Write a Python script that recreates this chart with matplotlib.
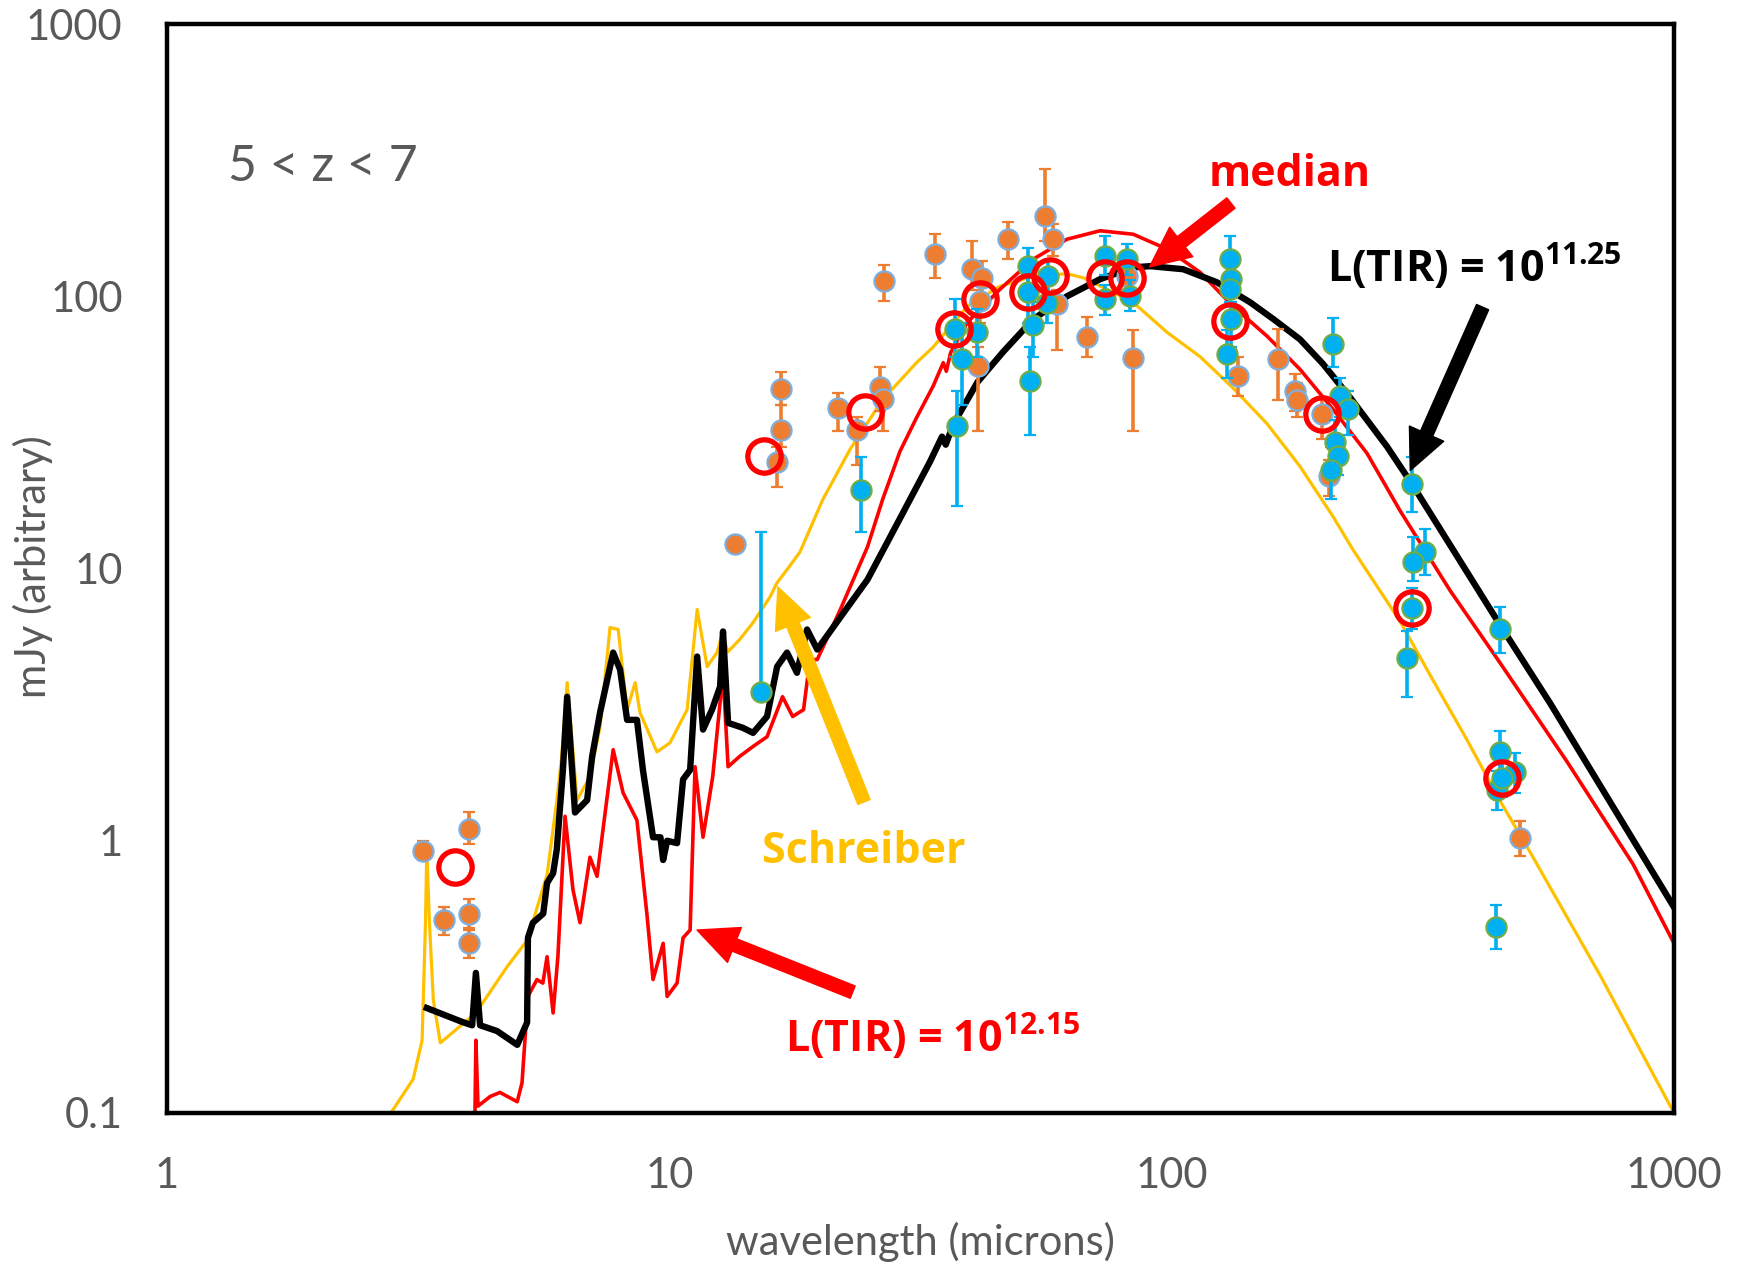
import numpy as np
import matplotlib
matplotlib.use("Agg")
import matplotlib.pyplot as plt

plt.rcParams['font.family'] = ['Lato', 'DejaVu Sans']
plt.rcParams['mathtext.fontset'] = 'custom'
plt.rcParams['mathtext.bf'] = 'Open Sans:bold'
plt.rcParams['mathtext.rm'] = 'Open Sans'

# ---------------- data ----------------
black_x = [3.29, 3.87, 4.05, 4.12, 4.2, 4.54, 4.98, 5.21, 5.23, 5.35, 5.61, 5.71, 5.87, 5.97, 6.14,
           6.26, 6.49, 6.86, 7.02, 7.28, 7.73, 7.98, 8.24, 8.62, 8.86, 9.28, 9.6, 9.72, 9.9, 10.36,
           10.65, 11.0, 11.36, 11.67, 12.16, 12.62, 12.79, 13.09, 14.0, 14.68, 15.65, 16.39, 17.15,
           17.95, 18.8, 19.7, 22.0, 24.8, 28.8, 33.0, 34.9, 35.5, 36.8, 41.1, 46.2, 53.0, 61.9, 72.0,
           83.8, 90.6, 105.4, 123.0, 143.3, 160.0, 180.0, 200.0, 226.5, 268.5, 301.0, 358.3, 450.6,
           566.8, 1000.0]
black_y = [0.243, 0.216, 0.21, 0.327, 0.21, 0.20, 0.178, 0.215, 0.44, 0.50, 0.54, 0.70, 0.76, 0.93, 1.82,
           3.38, 1.27, 1.41, 2.04, 2.96, 4.91, 4.25, 2.78, 2.78, 1.82, 1.03, 1.03, 0.85, 1.0, 0.98,
           1.68, 1.82, 4.75, 2.56, 3.03, 3.68, 5.87, 2.71, 2.6, 2.49, 2.86, 4.36, 4.91,
           4.14, 5.97, 5.04, 6.7, 9.1, 15.3, 24.6, 30.5, 28.5, 34.0, 48.5, 62.5, 82.3, 100.0, 115.5,
           127.6, 129.0, 125.7, 112.6, 95.0, 82.0, 69.5, 56.5, 42.5, 28.0, 20.4, 12.2, 6.2,
           3.2, 0.57]

red_x = [4.1, 4.12, 4.16, 4.40, 4.60, 4.98, 5.09, 5.23, 5.45, 5.6, 5.71, 5.87, 6.0, 6.2, 6.43, 6.64,
         6.95, 7.18, 7.73, 8.09, 8.62, 9.03, 9.28, 9.72, 9.9, 10.36, 10.65, 11.0, 11.25, 11.67, 12.2,
         12.79, 13.09, 13.8, 14.68, 15.65, 16.8, 17.6, 18.5, 19.05, 19.7, 21.9, 24.8, 26.6, 28.8,
         31.1, 33.5, 35.1, 35.6, 36.3, 39.2, 45.5, 53.0, 61.9, 72.0, 83.8, 97.9, 113.9, 132.5,
         154.9, 180.1, 209.6, 244.8, 284.9, 358.3, 450.6, 612.7, 829.0, 1000.0]
red_y = [0.09, 0.185, 0.106, 0.115, 0.119, 0.110, 0.129, 0.268, 0.309, 0.30, 0.375, 0.233, 0.375, 1.23,
         0.66, 0.50, 0.87, 0.74, 2.16, 1.50, 1.19, 0.53, 0.309, 0.42, 0.268, 0.30, 0.44, 0.47, 1.87,
         1.03, 1.72, 4.14, 1.87, 2.04, 2.22, 2.41, 3.38, 2.86, 3.03, 4.63, 4.63, 7.07, 12.0, 18.0,
         27.0, 36.0, 46.7, 57.0, 53.0, 62.0, 80.2, 106.0, 136.8, 162.0, 174.0, 169.0, 149.0, 122.5,
         91.9, 71.3, 53.9, 38.4, 26.5, 16.3, 8.3, 4.5, 1.95, 0.82, 0.42]

yellow_x = [2.79, 3.09, 3.22, 3.27, 3.29, 3.33, 3.39, 3.50, 4.12, 4.75, 5.21, 5.71, 5.97, 6.1, 6.26,
            6.55, 6.95, 7.28, 7.62, 7.91, 8.24, 8.55, 8.74, 9.45, 10.03, 10.85, 11.36, 11.89, 12.44,
            12.73, 13.09, 13.8, 14.68, 15.87, 16.39, 17.15, 18.2, 20.2, 22.9, 26.6, 31.1, 33.5, 39.2,
            45.5, 53.0, 61.9, 66.6, 74.4, 83.8, 97.9, 113.9, 132.5, 154.9, 180.1, 209.6, 229.7,
            284.9, 331.0, 387.0, 450.6, 524.0, 713.0, 1000.0]
yellow_y = [0.1, 0.133, 0.185, 0.5, 0.93, 0.5, 0.26, 0.181, 0.233, 0.344, 0.43, 0.75, 1.4, 2.0, 3.81,
            1.41, 1.72, 2.62, 6.07, 5.97, 3.03, 3.81, 2.96, 2.12, 2.29, 3.03, 7.07, 4.36, 4.91,
            5.71, 4.95, 5.48, 6.33, 7.87, 8.88, 9.9, 11.5, 17.9, 27.4, 41.8, 57.2, 65.0, 91.9,
            108.8, 118.5, 121.0, 117.0, 106.0, 95.0, 73.7, 60.0, 46.0, 34.0, 23.7, 15.5, 11.7,
            6.4, 3.9, 2.35, 1.4, 0.87, 0.32, 0.1]

orange_x = [3.23, 3.56, 3.99, 3.99, 3.99, 13.5, 16.7, 16.7, 16.4, 21.7, 23.6, 26.3, 26.6, 26.8, 33.8,
            40.1, 41.2, 42.0, 41.6, 47.2, 56.0, 58.1, 59.1, 67.9, 83.8, 81.5, 135.6, 162.9, 176.1,
            178.0, 199.0, 206.0, 494.0]
orange_y = [0.92, 0.51, 1.10, 0.54, 0.42, 12.3, 45.5, 32.2, 24.7, 38.7, 32.4, 46.3, 41.8, 113.5, 142.7,
            125.7, 55.3, 117.0, 95.9, 162.0, 197.0, 162.0, 93.5, 70.7, 59.1, 118.5, 50.8, 58.7, 44.8,
            41.6, 36.8, 21.8, 1.02]
orange_lo = [0.85, 0.45, 0.97, 0.48, 0.37, 11.8, 40.0, 28.0, 20.0, 32.0, 24.0, 38.0, 32.0, 96.0, 117.0,
             105.0, 31.9, 95.0, 80.0, 137.0, 160.0, 140.0, 63.6, 59.6, 31.9, 105.0, 43.0, 41.5, 38.0,
             36.0, 30.0, 18.5, 0.88]
orange_hi = [1.0, 0.57, 1.28, 0.61, 0.47, 12.8, 52.5, 40.0, 28.0, 44.0, 36.0, 55.0, 47.0, 130.0, 169.0,
             160.0, 65.0, 135.0, 110.0, 188.0, 293.0, 185.0, 105.0, 83.6, 75.0, 130.0, 60.0, 75.6, 52.0,
             48.0, 42.0, 25.0, 1.18]

blue_x = [15.2, 24.1, 37.4, 38.3, 37.0, 41.0, 51.8, 51.8, 56.8, 56.5, 53.0, 52.2, 73.7, 73.7, 81.5,
          82.7, 130.7, 131.5, 130.7, 131.5, 128.9, 209.6, 216.3, 224.5, 211.0, 214.0, 208.0, 301.0,
          319.0, 302.0, 301.0, 294.0, 450.6, 451.0, 483.0, 444.6, 455.0, 442.5]
blue_y = [3.53, 19.5, 33.3, 58.7, 75.6, 74.0, 128.9, 103.5, 118.5, 94.8, 78.7, 48.7, 140.0, 97.5, 136.8,
          100.0, 136.8, 115.5, 106.0, 82.3, 61.2, 66.6, 42.9, 38.4, 29.1, 25.8, 23.1, 20.4,
          11.5, 10.6, 7.19, 4.71, 5.97, 2.11, 1.79, 1.54, 1.70, 0.483]
blue_lo = [3.53, 13.6, 16.9, 40.0, 60.0, 60.0, 105.0, 80.0, 95.0, 80.0, 60.0, 31.0, 120.0, 85.0, 120.0,
           88.0, 115.0, 100.0, 95.0, 65.0, 50.0, 55.0, 36.0, 31.0, 24.0, 22.0, 18.0, 16.1,
           9.5, 9.0, 6.0, 3.36, 4.9, 1.8, 1.5, 1.3, 1.45, 0.40]
blue_hi = [13.6, 25.6, 45.0, 80.0, 97.5, 90.0, 150.0, 120.0, 135.0, 110.0, 95.0, 65.0, 166.0, 110.0, 155.0,
           115.0, 166.0, 130.0, 120.0, 95.0, 75.0, 83.0, 50.0, 45.0, 35.0, 30.0, 28.0, 25.6,
           14.0, 13.0, 8.5, 5.9, 7.2, 2.52, 2.1, 1.8, 2.0, 0.58]

circ_x = [3.74, 15.4, 24.5, 36.8, 41.6, 51.8, 57.3, 73.7, 81.5, 130.7, 199.2, 301.0, 455.0]
circ_y = [0.80, 25.8, 37.5, 75.6, 97.5, 103.5, 118.5, 117.0, 117.0, 81.0, 36.8, 7.19, 1.70]

x_ticks = [1, 10, 100, 1000]
x_tick_labels = ["1", "10", "100", "1000"]
y_ticks = [0.1, 1, 10, 100, 1000]
y_tick_labels = ["0.1", "1", "10", "100", "1000"]

# ---------------- figure ----------------
W, H = 1742, 1268
fig = plt.figure(figsize=(W / 100, H / 100), dpi=100)
ax = fig.add_axes([167 / W, 1 - 1113 / H, 1507 / W, 1089 / H])
ax.set_xscale('log')
ax.set_yscale('log')
ax.set_xlim(1, 1000)
ax.set_ylim(0.1, 1000)

GRAY = '#595959'
ax.set_xticks(x_ticks, x_tick_labels)
ax.set_yticks(y_ticks, y_tick_labels)
ax.minorticks_off()
ax.tick_params(axis='both', length=0, labelsize=30, labelcolor=GRAY, pad=32)
for s in ax.spines.values():
    s.set_linewidth(3.2)
    s.set_color('black')
    s.set_zorder(10)

ax.plot(yellow_x, yellow_y, color='#FFC000', lw=2.3, zorder=2, solid_joinstyle='round')
ax.plot(red_x, red_y, color='#FF0000', lw=2.6, zorder=2.2, solid_joinstyle='round')
ax.plot(black_x, black_y, color='black', lw=4.6, zorder=2.4, solid_joinstyle='round')

ox, oy = np.array(orange_x), np.array(orange_y)
olo, ohi = np.array(orange_lo), np.array(orange_hi)
ax.errorbar(ox, oy, yerr=[oy - olo, ohi - oy], fmt='o', ms=14.5, mfc='#ED7D31', mec='#7FAEDD',
            mew=1.6, ecolor='#ED7D31', elinewidth=2.6, capsize=4.5, capthick=2.6, zorder=3)

bx, by = np.array(blue_x), np.array(blue_y)
blo, bhi = np.array(blue_lo), np.array(blue_hi)
ax.errorbar(bx, by, yerr=[by - blo, bhi - by], fmt='o', ms=14.5, mfc='#00B0F0', mec='#70AD47',
            mew=1.6, ecolor='#00B0F0', elinewidth=2.6, capsize=4.5, capthick=2.6, zorder=4)

ax.plot(circ_x, circ_y, 'o', ms=24, mfc='none', mec='#FF0000', mew=3.8, zorder=5)

# ---------------- text ----------------
ax.text(0.0405, 0.869, "5 < z < 7", transform=ax.transAxes, fontsize=36, color=GRAY,
        ha='left', va='center')

fig.text(920 / W, 1 - 1242 / H, "wavelength (microns)", fontsize=30, color=GRAY,
         ha='center', va='center')
fig.text(33 / W, 1 - 567 / H, "mJy (arbitrary)", fontsize=30, color=GRAY,
         ha='center', va='center', rotation=90)

bold = dict(family='Open Sans', fontweight='bold', fontsize=31)
ax.text(0.745, 0.862, "median", transform=ax.transAxes, color='#FF0000', ha='center',
        va='center', **bold)
ax.text(0.770, 0.763, r"L(TIR) = 10$^{\mathbf{11.25}}$", transform=ax.transAxes, color='black',
        ha='left', va='baseline', **bold)
ax.text(0.395, 0.2296, "Schreiber", transform=ax.transAxes, color='#FFC000', ha='left',
        va='baseline', **bold)
ax.text(0.410, 0.056, r"L(TIR) = 10$^{\mathbf{12.15}}$", transform=ax.transAxes, color='#FF0000',
        ha='left', va='baseline', **bold)

def arrow(tail, head, color):
    ax.annotate("", xy=head, xytext=tail, xycoords='axes fraction', textcoords='axes fraction',
                arrowprops=dict(arrowstyle='simple,head_length=2.9,head_width=2.7,tail_width=0.95',
                                mutation_scale=10, color=color, shrinkA=0, shrinkB=0),
                zorder=6)

arrow((0.706, 0.8356), (0.652, 0.777), '#FF0000')
arrow((0.873, 0.740), (0.825, 0.590), 'black')
arrow((0.4625, 0.2856), (0.4054, 0.483), '#FFC000')
arrow((0.455, 0.111), (0.3517, 0.168), '#FF0000')

fig.savefig("out.png", dpi=100)
